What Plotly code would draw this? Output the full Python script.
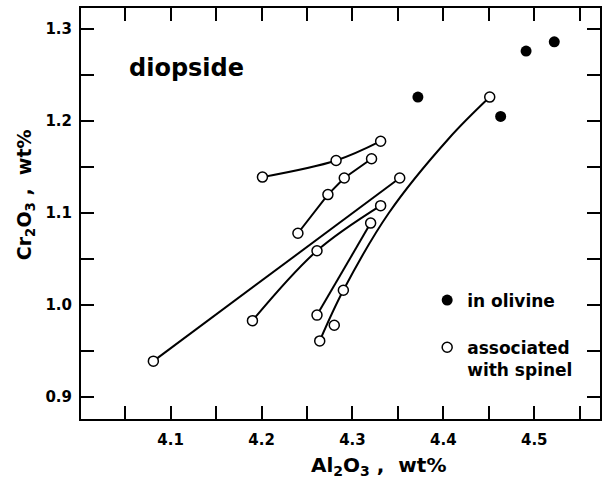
import plotly.graph_objects as go

# ---- data ----
olivine_al = [4.372, 4.463, 4.491, 4.522]
olivine_cr = [1.226, 1.205, 1.276, 1.286]

spinel_al = [4.201, 4.282, 4.331, 4.321, 4.291, 4.273, 4.240, 4.352, 4.331,
             4.320, 4.451, 4.261, 4.190, 4.081, 4.261, 4.290, 4.280, 4.264]
spinel_cr = [1.139, 1.157, 1.178, 1.159, 1.138, 1.120, 1.078, 1.138, 1.108,
             1.089, 1.226, 1.059, 0.983, 0.939, 0.989, 1.016, 0.978, 0.961]

# connecting lines (grain traverses)
line1_al = [4.201, 4.282, 4.331]
line1_cr = [1.139, 1.157, 1.178]
line2_al = [4.240, 4.273, 4.291, 4.321]
line2_cr = [1.078, 1.120, 1.138, 1.159]
line3_al = [4.081, 4.352]
line3_cr = [0.939, 1.138]
line4_al = [4.190, 4.261, 4.331]
line4_cr = [0.983, 1.059, 1.108]
line5_al = [4.261, 4.320]
line5_cr = [0.989, 1.089]
curve_al = [4.264, 4.290, 4.340, 4.406, 4.451]
curve_cr = [0.961, 1.016, 1.100, 1.181, 1.226]

x_tickvals = [4.05, 4.10, 4.15, 4.20, 4.25, 4.30, 4.35, 4.40, 4.45, 4.50, 4.55]
x_ticktext = ["", "4.1", "", "4.2", "", "4.3", "", "4.4", "", "4.5", ""]
y_tickvals = [0.90, 0.95, 1.00, 1.05, 1.10, 1.15, 1.20, 1.25, 1.30]
y_ticktext = ["0.9", "", "1.0", "", "1.1", "", "1.2", "", "1.3"]

FONT = "DejaVu Sans"

fig = go.Figure()

lines = [(line1_al, line1_cr, "spline"), (line2_al, line2_cr, "linear"),
         (line3_al, line3_cr, "linear"), (line4_al, line4_cr, "spline"),
         (line5_al, line5_cr, "linear"), (curve_al, curve_cr, "spline")]
for xs, ys, shp in lines:
    fig.add_trace(go.Scatter(x=xs, y=ys, mode="lines", showlegend=False,
                             line=dict(color="black", width=2, shape=shp, smoothing=1.0),
                             hoverinfo="skip"))

fig.add_trace(go.Scatter(x=olivine_al, y=olivine_cr, mode="markers",
                         name="in olivine", legendgroup="a",
                         marker=dict(symbol="circle", size=11, color="black",
                                     line=dict(color="black", width=0))))
fig.add_trace(go.Scatter(x=spinel_al, y=spinel_cr, mode="markers",
                         name="associated<br>with spinel", legendgroup="b",
                         marker=dict(symbol="circle", size=10, color="white",
                                     line=dict(color="black", width=1.5))))

axis_common = dict(showline=True, linecolor="black", linewidth=2, mirror="ticks",
                   ticks="inside", ticklen=13, tickwidth=1.5, tickcolor="black",
                   showgrid=False, zeroline=False,
                   tickfont=dict(family=FONT, size=15, color="black", weight="bold"))

fig.update_xaxes(range=[4.0014, 4.5723], tickmode="array", tickvals=x_tickvals,
                 ticktext=x_ticktext, ticklabelstandoff=6, **axis_common)
fig.update_yaxes(range=[0.8761, 1.3228], tickmode="array", tickvals=y_tickvals,
                 ticktext=y_ticktext, ticklabelstandoff=4, **axis_common)

fig.update_layout(
    width=603, height=489,
    margin=dict(l=81, r=1, t=8, b=70),
    plot_bgcolor="white", paper_bgcolor="white",
    showlegend=True,
    legend=dict(x=0.667, y=0.332, xanchor="left", yanchor="top",
                bgcolor="rgba(0,0,0,0)", borderwidth=0, valign="top",
                tracegroupgap=22,
                font=dict(family=FONT, size=17, color="black", weight="bold")),
    annotations=[
        dict(text="diopside", x=4.117, y=1.2576, xref="x", yref="y",
             showarrow=False, font=dict(family=FONT, size=24, color="black", weight="bold")),
        dict(text="Al<sub>2</sub>O<sub>3</sub> ,  wt%", x=0.574, y=-0.114,
             xref="paper", yref="paper", showarrow=False,
             xanchor="center", yanchor="middle",
             font=dict(family=FONT, size=20, color="black", weight="bold")),
        dict(text="Cr<sub>2</sub>O<sub>3</sub> ,  wt%", x=-0.1075, y=0.545,
             xref="paper", yref="paper", showarrow=False, textangle=-90,
             xanchor="center", yanchor="middle",
             font=dict(family=FONT, size=19, color="black", weight="bold")),
    ],
)

fig.write_html("out.html")
